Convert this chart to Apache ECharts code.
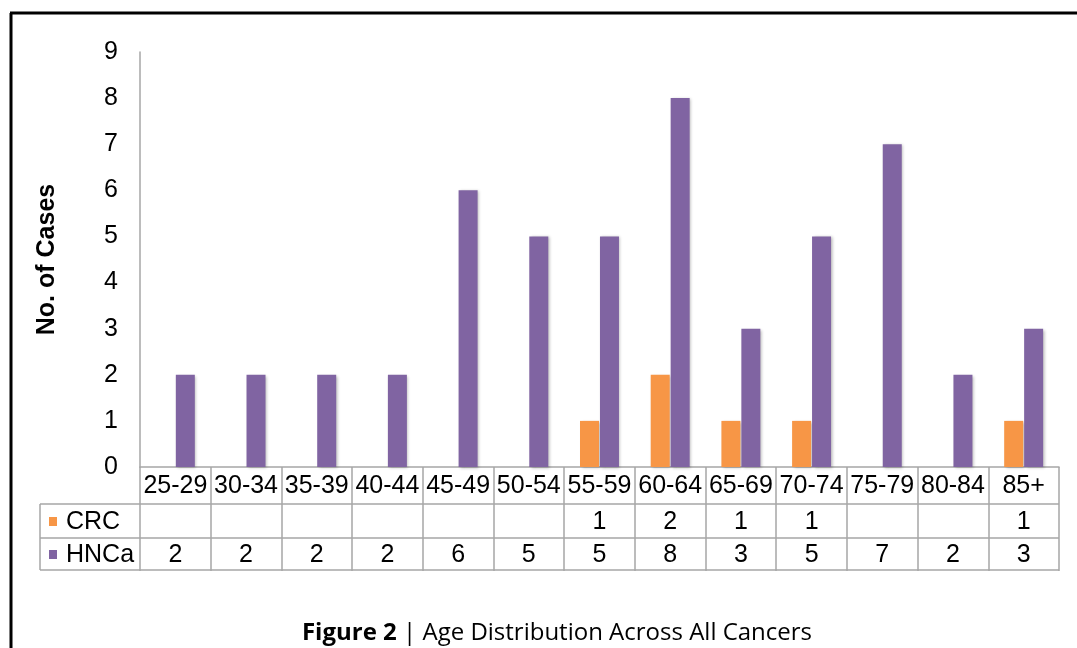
<!DOCTYPE html>
<html lang="en">
<head>
<meta charset="UTF-8">
<title>Age Distribution Across All Cancers</title>
<script src="https://cdn.jsdelivr.net/npm/echarts@6/dist/echarts.min.js"></script>
</head>
<body style="margin:0; background:#fff;">
<div id="chart" style="width:1077px; height:648px;"></div>
<script>
    // data
    const ageGroups = ['25-29', '30-34', '35-39', '40-44', '45-49', '50-54', '55-59', '60-64', '65-69', '70-74', '75-79', '80-84', '85+'];
    const crcCases = [null, null, null, null, null, null, 1, 2, 1, 1, null, null, 1];
    const hncaCases = [2, 2, 2, 2, 6, 5, 5, 8, 3, 5, 7, 2, 3];
    const seriesNames = ['CRC', 'HNCa'];
    const seriesColors = ['#F79646', '#8064A2'];

    const FONT = '"Liberation Sans", Arial, sans-serif';
    const FSIZE = 25;
    const GRID_COLOR = '#a6a6a6';

    const myChart = echarts.init(document.getElementById('chart'));

    const barShadow = {
        shadowColor: 'rgba(0,0,0,0.28)',
        shadowBlur: 3,
        shadowOffsetX: 1.5,
        shadowOffsetY: 1
    };

    myChart.setOption({
        animation: false,
        grid: { left: 140, right: 18, top: 52, bottom: 181 },
        xAxis: {
            type: 'category',
            data: ageGroups,
            axisLine: { lineStyle: { color: GRID_COLOR, width: 1.5 } },
            axisTick: { show: true, length: 104, lineStyle: { color: GRID_COLOR, width: 1.5 } },
            axisLabel: { color: '#000', fontFamily: FONT, fontSize: FSIZE, margin: 7, interval: 0 }
        },
        yAxis: {
            type: 'value',
            min: 0,
            max: 9,
            interval: 1,
            name: 'No. of Cases',
            nameLocation: 'middle',
            nameRotate: 90,
            nameGap: 80,
            nameTextStyle: { color: '#000', fontFamily: FONT, fontSize: FSIZE, fontWeight: 'bold' },
            axisLine: { show: true, lineStyle: { color: GRID_COLOR, width: 1.5 } },
            axisTick: { show: false },
            splitLine: { show: false },
            axisLabel: { color: '#000', fontFamily: FONT, fontSize: FSIZE, margin: 22 }
        },
        series: [
            {
                name: seriesNames[0],
                type: 'bar',
                data: crcCases,
                barWidth: 19,
                barGap: '5%',
                itemStyle: Object.assign({ color: seriesColors[0] }, barShadow)
            },
            {
                name: seriesNames[1],
                type: 'bar',
                data: hncaCases,
                barWidth: 19,
                barGap: '5%',
                itemStyle: Object.assign({ color: seriesColors[1] }, barShadow)
            }
        ]
    });

    // data table under the axis, placed from the category scale
    const rowTop = [504, 538];
    const rowBottom = 570;
    const tableLeft = 40;
    const tableRight = 1077 - 18;
    const graphics = [];

    [rowTop[0], rowTop[1], rowBottom].forEach(function (y) {
        graphics.push({
            type: 'line',
            shape: { x1: tableLeft, y1: y, x2: tableRight, y2: y },
            style: { stroke: GRID_COLOR, lineWidth: 1.5 }
        });
    });
    graphics.push({
        type: 'line',
        shape: { x1: tableLeft, y1: rowTop[0], x2: tableLeft, y2: rowBottom },
        style: { stroke: GRID_COLOR, lineWidth: 1.5 }
    });

    const rows = [crcCases, hncaCases];
    rows.forEach(function (values, r) {
        const yMid = (rowTop[r] + (r === 0 ? rowTop[1] : rowBottom)) / 2 + 1;
        // legend key + row name
        graphics.push({
            type: 'rect',
            shape: { x: 49, y: yMid - 5, width: 8, height: 9 },
            style: { fill: seriesColors[r] }
        });
        graphics.push({
            type: 'text',
            x: 66, y: yMid,
            style: { text: seriesNames[r], font: FSIZE + 'px ' + FONT, fill: '#000', verticalAlign: 'middle' }
        });
        values.forEach(function (v, i) {
            if (v === null) return;
            const x = myChart.convertToPixel({ xAxisIndex: 0 }, ageGroups[i]);
            graphics.push({
                type: 'text',
                x: x, y: yMid,
                style: { text: String(v), font: FSIZE + 'px ' + FONT, fill: '#000', align: 'center', verticalAlign: 'middle' }
            });
        });
    });

    // frame and caption
    graphics.push({
        type: 'line',
        shape: { x1: 11, y1: 13, x2: 11, y2: 648 },
        style: { stroke: '#000', lineWidth: 3 }
    });
    graphics.push({
        type: 'line',
        shape: { x1: 10, y1: 13, x2: 1077, y2: 13 },
        style: { stroke: '#000', lineWidth: 3 }
    });
    graphics.push({
        type: 'text',
        x: 557, y: 633,
        style: {
            text: '{b|Figure 2}{r| | Age Distribution Across All Cancers}',
            align: 'center',
            verticalAlign: 'middle',
            rich: {
                b: { font: 'bold 24px "Open Sans", sans-serif', fill: '#000' },
                r: { font: '24px "Open Sans", sans-serif', fill: '#000' }
            }
        }
    });

    myChart.setOption({ graphic: graphics });
</script>
</body>
</html>
